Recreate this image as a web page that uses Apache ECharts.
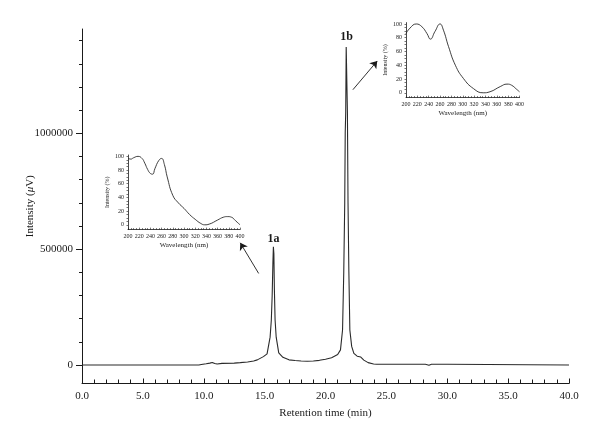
<!DOCTYPE html>
<html>
<head>
<meta charset="utf-8">
<script src="https://cdn.jsdelivr.net/npm/echarts@6/dist/echarts.min.js"></script>
<style>
html, body { margin: 0; padding: 0; background: #fff; }
#main { width: 600px; height: 441px; }
</style>
</head>
<body>
<div id="main"></div>
<script>
// chromatogram (retention time in min, intensity in uV)
const retTime = [0, 3.0, 3.1, 3.2, 9.6, 9.8, 10.2, 10.5, 10.7, 10.9, 11.1, 11.5, 12.5, 13.0, 13.6, 14.1, 14.4, 14.9, 15.2, 15.33,
  15.45, 15.55, 15.62, 15.68, 15.72, 15.76, 15.8, 15.86, 15.95, 16.16, 16.5, 17.0, 17.5, 18.0, 18.5, 19.0, 19.5, 20.0, 20.5, 21.0,
  21.23, 21.4, 21.5, 21.58, 21.62, 21.66, 21.7, 21.76, 21.8, 21.85, 21.92, 22.0, 22.15, 22.33, 22.6, 22.9, 23.15, 23.5, 23.95,
  24.2, 28.2, 28.3, 28.5, 28.7, 30.0, 30.1, 40.0];
const intensity = [0, 0, -5000, 0, 0, 2000, 5000, 8000, 11000, 6000, 4000, 7000, 8000, 10000, 13000, 17000, 22000, 36000, 48000, 55000,
  120000, 194000, 300000, 440000, 510000, 480000, 330000, 194000, 120000, 52000, 33000, 22000, 19000, 17000, 16000, 17000, 20000, 25000, 31000, 45000,
  65000, 151000, 400000, 700000, 1000000, 1090000, 1372000, 1372000, 1090000, 700000, 400000, 151000, 80000, 50000, 38000, 34000, 21000, 10000, 4000,
  3000, 3000, 0, -1000, 3000, 3000, 0, 0];

// UV spectra of the two peaks
const wave1a = [200, 205, 210, 218, 225, 230, 235, 240, 244, 248, 255, 260, 265, 270, 280, 290, 300, 310, 320, 330, 337, 345, 360, 370, 378, 385, 392, 400];
const spec1a = [97, 96, 98, 100, 97, 90, 81, 75, 74, 82, 94, 97, 88, 70, 43, 32, 24, 15, 8, 2, 0, 1, 7, 11, 12, 11, 6, 0];
const wave1b = [200, 207, 218, 228, 237, 243, 251, 260, 266, 275, 287, 301, 319, 336, 348, 366, 378, 386, 395, 400];
const spec1b = [86, 94, 100, 96, 86, 78, 89, 100, 91, 67, 40, 21, 6, 0, 1.5, 9, 12.6, 11, 5, 1.5];

// tick labels
const yMajor = [0, 500000, 1000000];
const yMinor = [0, 100000, 200000, 300000, 400000, 500000, 600000, 700000, 800000, 900000, 1000000, 1100000, 1200000, 1300000, 1400000];
const insetYLabels = [0, 20, 40, 60, 80, 100];
const insetYTicks = [0, 5, 10, 15, 20, 25, 30, 35, 40, 45, 50, 55, 60, 65, 70, 75, 80, 85, 90, 95, 100];

// peak names and arrows pointing to the spectra
const peakNames = ['1a', '1b'];
const peakTops = [[15.72, 510000], [21.73, 1372000]];
const arrows = [[[14.51, 395000], [13.0, 527000]], [[22.25, 1188000], [24.25, 1312000]]];

const FONT = 'Liberation Serif';
const INK = '#1a1a1a';

const chart = echarts.init(document.getElementById('main'));

function insetX(gi, name) {
  return {
    type: 'value', gridIndex: gi, min: 200, max: 400, interval: 20,
    name: name, nameLocation: 'middle', nameGap: 12, nameMoveOverlap: false,
    nameTextStyle: { fontFamily: FONT, fontSize: 7, color: INK },
    axisLine: { onZero: false, lineStyle: { color: INK, width: 0.8 } },
    axisTick: { inside: true, length: 2, lineStyle: { color: INK, width: 0.6 } },
    minorTick: { show: true, splitNumber: 4, length: 1.5, lineStyle: { color: INK, width: 0.6 } },
    axisLabel: { fontFamily: FONT, fontSize: 6, color: INK, margin: 4, interval: 0, hideOverlap: false },
    splitLine: { show: false }
  };
}
function insetY(gi) {
  return {
    type: 'value', gridIndex: gi, min: -7, max: 102, position: 'left',
    name: 'Intensity (%)', nameLocation: 'middle', nameGap: 18, nameMoveOverlap: false,
    nameTextStyle: { fontFamily: FONT, fontSize: 6, color: INK },
    axisLine: { show: true, onZero: false, lineStyle: { color: INK, width: 0.8 } },
    axisTick: { show: true, length: 1.5, customValues: insetYTicks, lineStyle: { color: INK, width: 0.6 } },
    axisLabel: { fontFamily: FONT, fontSize: 6, color: INK, margin: 4, customValues: insetYLabels },
    splitLine: { show: false }
  };
}

const option = {
  backgroundColor: '#fff',
  animation: false,
  grid: [
    { left: 82, top: 29, width: 487, height: 354.5 },
    { left: 128, top: 155, width: 112, height: 74.6 },
    { left: 406, top: 22.6, width: 113.5, height: 75 }
  ],
  xAxis: [
    {
      type: 'value', gridIndex: 0, min: 0, max: 40, interval: 5,
      name: 'Retention time (min)', nameLocation: 'middle', nameGap: 24, nameMoveOverlap: false,
      nameTextStyle: { fontFamily: FONT, fontSize: 11, color: INK },
      axisLine: { onZero: false, lineStyle: { color: INK, width: 1 } },
      axisTick: { inside: true, length: 5, lineStyle: { color: INK } },
      minorTick: { show: true, splitNumber: 5, length: 4, lineStyle: { color: INK } },
      axisLabel: { fontFamily: FONT, fontSize: 11, color: INK, margin: 7, formatter: v => v.toFixed(1) },
      splitLine: { show: false }
    },
    insetX(1, 'Wavelength (nm)'),
    insetX(2, 'Wavelength (nm)')
  ],
  yAxis: [
    {
      type: 'value', gridIndex: 0, min: -80000, max: 1450000, position: 'left',
      name: '{n|Intensity (}{i|μ}{n|V)}', nameLocation: 'middle', nameGap: 46, nameMoveOverlap: false,
      nameTextStyle: {
        fontFamily: FONT, fontSize: 11, color: INK,
        rich: { n: { fontFamily: FONT, fontSize: 11, color: INK }, i: { fontFamily: FONT, fontSize: 11, fontStyle: 'italic', color: INK } }
      },
      axisLine: { show: true, onZero: false, lineStyle: { color: INK, width: 1 } },
      axisTick: { show: true, length: 6, customValues: yMajor, lineStyle: { color: INK } },
      axisLabel: { fontFamily: FONT, fontSize: 11, color: INK, margin: 9, customValues: yMajor, formatter: v => String(v) },
      splitLine: { show: false }
    },
    {
      type: 'value', gridIndex: 0, min: -80000, max: 1450000, position: 'left',
      axisLine: { show: false, onZero: false },
      axisTick: { show: true, length: 3, customValues: yMinor, lineStyle: { color: INK } },
      axisLabel: { show: false },
      splitLine: { show: false }
    },
    insetY(1),
    insetY(2)
  ],
  series: [
    {
      type: 'line', xAxisIndex: 0, yAxisIndex: 0,
      data: retTime.map((t, i) => [t, intensity[i]]),
      showSymbol: false,
      lineStyle: { color: '#2a2a2a', width: 1.1 },
      markPoint: {
        symbol: 'circle', symbolSize: 1,
        itemStyle: { color: 'rgba(0,0,0,0)' },
        label: { show: true, position: 'top', formatter: '{b}', fontFamily: FONT, fontSize: 12, fontWeight: 'bold', color: INK },
        data: [
          { name: peakNames[0], coord: peakTops[0], label: { distance: 1 } },
          { name: peakNames[1], coord: peakTops[1], label: { distance: 4 } }
        ]
      },
      markLine: {
        silent: true,
        symbol: ['none', 'arrow'], symbolSize: 7,
        label: { show: false },
        lineStyle: { color: INK, width: 0.9, type: 'solid' },
        data: arrows.map(a => [{ coord: a[0] }, { coord: a[1] }])
      }
    },
    {
      type: 'line', xAxisIndex: 1, yAxisIndex: 2,
      data: wave1a.map((w, i) => [w, spec1a[i]]),
      smooth: true, showSymbol: false,
      lineStyle: { color: '#2a2a2a', width: 0.9 }
    },
    {
      type: 'line', xAxisIndex: 2, yAxisIndex: 3,
      data: wave1b.map((w, i) => [w, spec1b[i]]),
      smooth: true, showSymbol: false,
      lineStyle: { color: '#2a2a2a', width: 0.9 }
    }
  ]
};
chart.setOption(option);
</script>
</body>
</html>
